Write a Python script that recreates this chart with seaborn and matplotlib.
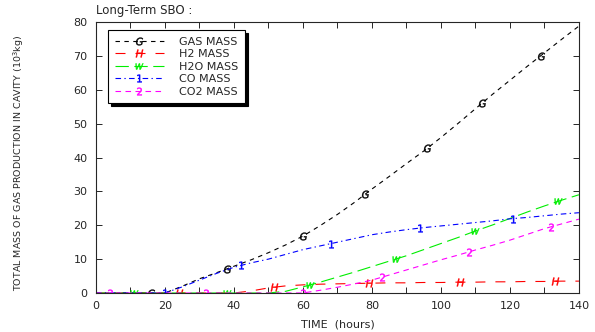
import numpy as np
import pandas as pd
import matplotlib
matplotlib.use("Agg")
import matplotlib.pyplot as plt
from matplotlib.lines import Line2D
from matplotlib.ticker import MultipleLocator
import seaborn as sns

sns.set_style("ticks")
plt.rcParams['font.family'] = ['DejaVu Sans']

hours = [0, 5, 10, 15, 20, 25, 30, 35, 40, 45, 50, 55, 60, 65, 70, 75, 80,
         85, 90, 95, 100, 105, 110, 115, 120, 125, 130, 135, 140]
gas_mass = [0, 0, 0, 0, 0, 2.0, 4.2, 6.0, 7.9, 9.8, 11.9, 14.2, 16.8, 19.9, 23.2,
            26.8, 30.7, 34.4, 38.2, 41.9, 45.9, 50.1, 54.4, 58.7, 62.8, 66.9,
            70.9, 74.9, 78.8]
h2_mass = [0, 0, 0, 0, 0, 0, 0, 0, 0, 0.6, 1.5, 2.1, 2.4, 2.6, 2.7, 2.8, 2.9,
           3.0, 3.0, 3.1, 3.1, 3.2, 3.2, 3.3, 3.3, 3.4, 3.4, 3.5, 3.5]
h2o_mass = [0, 0, 0, 0, 0, 0, 0, 0, 0, 0, 0, 0.5, 1.8, 3.2, 4.7, 6.2, 7.8,
            9.4, 11.0, 12.8, 14.6, 16.4, 18.3, 20.1, 22.0, 23.9, 25.7, 27.4, 29.0]
co_mass = [0, 0, 0, 0, 0, 1.8, 3.8, 5.8, 7.6, 8.9, 10.0, 11.4, 12.8, 13.9, 15.0,
           16.1, 17.2, 18.0, 18.7, 19.3, 19.8, 20.3, 20.8, 21.3, 21.9, 22.3,
           22.8, 23.3, 23.7]
co2_mass = [0, 0, 0, 0, 0, 0, 0, 0, 0, 0, 0, 0, 0, 0.8, 1.7, 2.7, 3.8, 5.3,
            6.8, 8.3, 9.8, 11.2, 12.7, 14.1, 15.6, 17.3, 19.0, 20.4, 21.8]

series_names = ["GAS MASS", "H2 MASS", "H2O MASS", "CO MASS", "CO2 MASS"]
marker_hours = {
    "GAS MASS": [16, 38, 60, 78, 96, 112, 129],
    "H2 MASS": [24, 51.5, 79, 105.5, 133],
    "H2O MASS": [11, 38, 62, 87, 110, 134],
    "CO MASS": [20, 42, 68, 94, 121],
    "CO2 MASS": [4, 32, 60, 83, 108, 132],
}

values = {"GAS MASS": gas_mass, "H2 MASS": h2_mass, "H2O MASS": h2o_mass,
          "CO MASS": co_mass, "CO2 MASS": co2_mass}
colors = {"GAS MASS": "black", "H2 MASS": "#ff0000", "H2O MASS": "#00ee00",
          "CO MASS": "#0000ff", "CO2 MASS": "#ff00ff"}
dashes = {"GAS MASS": (4, 4), "H2 MASS": (9, 9), "H2O MASS": (12, 5),
          "CO MASS": (5, 3, 1.2, 3), "CO2 MASS": (5, 4)}
markers = {"GAS MASS": "$G$", "H2 MASS": "$H$", "H2O MASS": "$W$",
           "CO MASS": "$1$", "CO2 MASS": "$2$"}

df = pd.DataFrame({"time": hours * len(series_names),
                   "mass": sum((values[n] for n in series_names), []),
                   "series": sum(([n] * len(hours) for n in series_names), [])})

fig = plt.figure(figsize=(5.95, 3.32), dpi=100)
ax = fig.add_axes([0.1613, 0.1175, 0.973 - 0.1613, 0.9337 - 0.1175])

for name in series_names:
    sub = df[df.series == name]
    sns.lineplot(data=sub, x="time", y="mass", ax=ax, color=colors[name],
                 linewidth=0.8, dashes=False, legend=False)
    ax.lines[-1].set_dashes(dashes[name])
    mx = np.array(marker_hours[name])
    my = np.interp(mx, hours, values[name])
    ax.plot(mx, my, linestyle="none", marker=markers[name], color=colors[name],
            markersize=5.5, markeredgewidth=0.3)

ax.set_xlim(0, 140)
ax.set_ylim(0, 80)
ax.xaxis.set_major_locator(MultipleLocator(20))
ax.xaxis.set_minor_locator(MultipleLocator(10))
ax.yaxis.set_major_locator(MultipleLocator(10))
ax.tick_params(which="both", direction="in", top=True, right=True,
               labelsize=8, width=0.7, pad=6)
ax.tick_params(which="major", length=4)
ax.tick_params(which="minor", length=4)
for s in ax.spines.values():
    s.set_linewidth(0.8)
    s.set_visible(True)

ax.set_xlabel("TIME  (hours)", fontsize=8, labelpad=6)
ax.set_ylabel("TOTAL MASS OF GAS PRODUCTION IN CAVITY (10$^3$kg)",
              fontsize=6.8, family=["Liberation Sans Narrow", "DejaVu Sans"])
ax.yaxis.set_label_coords(-0.145, 0.48)
ax.text(0.0, 1.02, "Long-Term SBO :", transform=ax.transAxes, fontsize=8.5,
        ha="left", va="bottom")

handles = [Line2D([], [], color=colors[n], dashes=dashes[n], linewidth=0.8,
                  marker=markers[n], markersize=5.5, markeredgewidth=0.3)
           for n in series_names]
leg = ax.legend(handles, series_names, loc="upper left",
                bbox_to_anchor=(0.025, 0.97), borderaxespad=0, numpoints=1,
                fontsize=8, frameon=True, fancybox=False, edgecolor="black",
                handlelength=4.4, handletextpad=1.4, labelspacing=0.22,
                borderpad=0.6,
                shadow={"color": "black", "alpha": 1})
leg.get_frame().set_linewidth(0.8)

fig.savefig("out.png", dpi=100)
